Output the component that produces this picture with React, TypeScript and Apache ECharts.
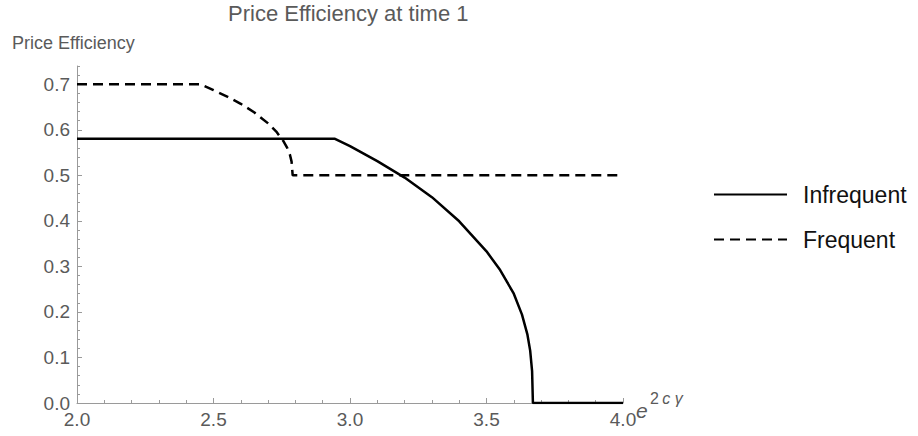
import React, { useEffect, useRef } from "react";
import * as echarts from "echarts";

const seriesNames = ["Infrequent", "Frequent"];
const infrequentX = [2.0, 2.945, 3.0, 3.1, 3.2, 3.3, 3.4, 3.5, 3.55, 3.6, 3.63, 3.65, 3.66, 3.667, 3.67, 4.0];
const infrequentY = [0.58, 0.58, 0.564, 0.531, 0.495, 0.452, 0.399, 0.333, 0.292, 0.24, 0.194, 0.15, 0.115, 0.07, 0, 0];
const frequentX = [2.0, 2.452, 2.5, 2.55, 2.6, 2.65, 2.7, 2.73, 2.755, 2.77, 2.78, 2.786, 2.79, 4.0];
const frequentY = [0.7, 0.7, 0.687, 0.673, 0.657, 0.638, 0.614, 0.596, 0.576, 0.56, 0.545, 0.53, 0.5, 0.5];
const yTickValues = [0, 0.1, 0.2, 0.3, 0.4, 0.5, 0.6, 0.7];

const zip = (xs: number[], ys: number[]) => xs.map((x, i) => [x, ys[i]]);

const FONT = "'Liberation Sans', Arial, sans-serif";
const AXIS = "#9a9a9a";
const LABEL = "#5a5a5a";

export default function App() {
  const ref = useRef<HTMLDivElement>(null);
  useEffect(() => {
    document.body.style.margin = "0";
    const chart = echarts.init(ref.current!, null, { renderer: "svg" });
    chart.setOption({
      animation: false,
      backgroundColor: "#fff",
      textStyle: { fontFamily: FONT },
      title: {
        text: "Price Efficiency at time 1",
        left: 228,
        top: 2,
        padding: 0,
        textStyle: { fontSize: 22, fontWeight: "normal", color: LABEL, fontFamily: FONT },
      },
      grid: { left: 77, right: 295, top: 66, bottom: 33 },
      legend: {
        orient: "vertical",
        left: 713,
        top: 183,
        padding: 0,
        itemWidth: 73,
        itemHeight: 14,
        itemGap: 22,
        data: seriesNames,
        itemStyle: { opacity: 0 },
        textStyle: { fontSize: 23, color: "#111", fontFamily: FONT, padding: [0, 0, 0, 11] },
      },
      xAxis: {
        type: "value",
        min: 2,
        max: 4,
        interval: 0.5,
        axisLine: { lineStyle: { color: AXIS, width: 1 } },
        axisTick: { inside: true, length: 5, lineStyle: { color: AXIS } },
        minorTick: { show: true, splitNumber: 5, length: 3, lineStyle: { color: AXIS } },
        splitLine: { show: false },
        axisLabel: {
          fontSize: 19,
          color: LABEL,
          margin: 7,
          formatter: (v: number) => v.toFixed(1),
        },
      },
      yAxis: [
        {
          type: "value",
          min: 0,
          max: 0.74,
          axisLine: { show: true, lineStyle: { color: AXIS, width: 1 } },
          axisTick: { show: true, inside: true, length: 5, customValues: yTickValues, lineStyle: { color: AXIS } },
          splitLine: { show: false },
          axisLabel: {
            fontSize: 19,
            color: LABEL,
            margin: 7,
            customValues: yTickValues,
            formatter: (v: number) => v.toFixed(1),
          },
        },
        {
          type: "value",
          min: 0,
          max: 0.74,
          interval: 0.02,
          position: "left",
          axisLine: { show: false },
          axisTick: { show: true, inside: true, length: 3, lineStyle: { color: AXIS } },
          axisLabel: { show: false },
          splitLine: { show: false },
        },
      ],
      graphic: [
        {
          type: "text",
          x: 12,
          y: 34,
          style: { text: "Price Efficiency", fontSize: 18, fill: LABEL, fontFamily: FONT },
        },
        {
          type: "text",
          x: 636,
          y: 400,
          style: { text: "e", fontSize: 21, fontStyle: "italic", fill: LABEL, fontFamily: FONT },
        },
        {
          type: "text",
          x: 650,
          y: 390,
          style: {
            text: "{n|2} {i|c γ}",
            rich: {
              n: { fontSize: 16, fill: LABEL, fontFamily: FONT },
              i: { fontSize: 16, fontStyle: "italic", fill: LABEL, fontFamily: FONT },
            },
          },
        },
      ],
      series: [
        {
          name: seriesNames[0],
          type: "line",
          symbol: "none",
          yAxisIndex: 0,
          data: zip(infrequentX, infrequentY),
          lineStyle: { color: "#000", width: 2.5, type: "solid" },
          itemStyle: { color: "#000" },
        },
        {
          name: seriesNames[1],
          type: "line",
          symbol: "none",
          yAxisIndex: 0,
          data: zip(frequentX, frequentY),
          lineStyle: { color: "#000", width: 2.5, type: [10, 6] },
          itemStyle: { color: "#000" },
        },
      ],
    });
    return () => chart.dispose();
  }, []);
  return <div ref={ref} style={{ width: 918, height: 436 }} />;
}
